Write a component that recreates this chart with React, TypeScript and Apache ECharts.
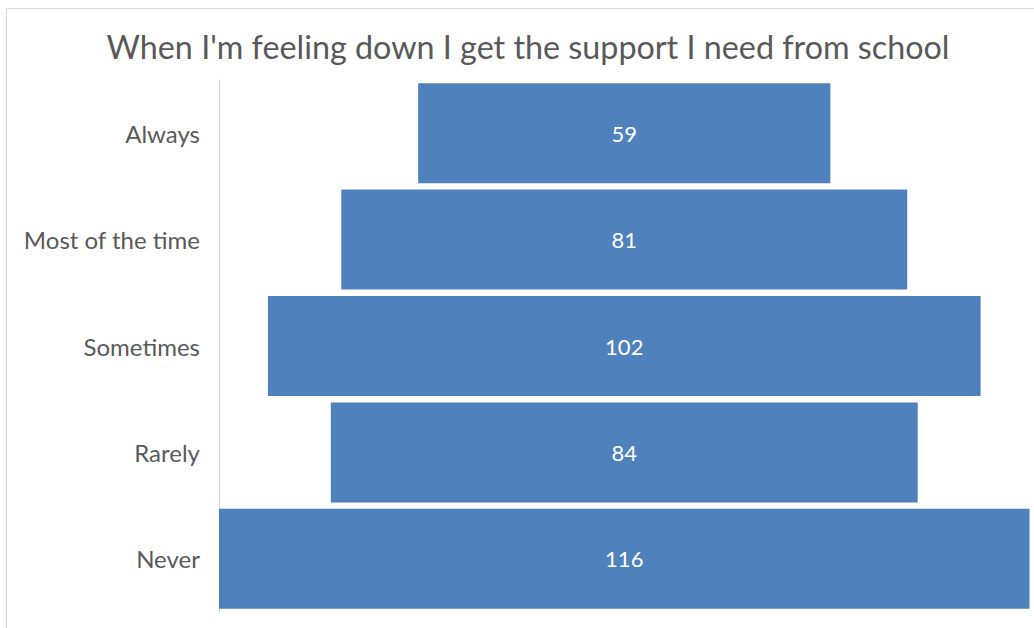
import React, { useEffect, useRef } from "react";
import * as echarts from "echarts";

const categories = ["Always", "Most of the time", "Sometimes", "Rarely", "Never"];
const counts = [59, 81, 102, 84, 116];
const maxCount = 116;

const chartTitle = "When I'm feeling down I get the support I need from school";

const fontFamily = "Lato";
const textGrey = "#595959";

export default function App() {
  const ref = useRef<HTMLDivElement>(null);

  useEffect(() => {
    if (!ref.current) return;
    const chart = echarts.init(ref.current, null, { renderer: "svg" });
    // Each bar is centred by stacking it on a transparent spacer of half the leftover width
    const spacer = counts.map((v) => (maxCount - v) / 2);
    chart.setOption({
      animation: false,
      backgroundColor: "#ffffff",
      title: {
        text: chartTitle,
        left: 523,
        top: 25,
        textAlign: "center",
        textStyle: {
          fontFamily,
          fontSize: 32.3,
          fontWeight: "normal",
          color: textGrey,
        },
      },
      graphic: [
        {
          type: "rect",
          shape: { x: 6.5, y: 8.5, width: 1100, height: 700 },
          style: { fill: "none", stroke: "#d9d9d9", lineWidth: 1 },
          silent: true,
        },
      ],
      grid: { left: 219, right: 4.5, top: 80, bottom: 16 },
      xAxis: {
        type: "value",
        min: 0,
        max: maxCount,
        show: false,
      },
      yAxis: {
        type: "category",
        data: categories,
        inverse: true,
        axisLine: { show: true, lineStyle: { color: "#d0d0d0", width: 1 } },
        axisTick: { show: false },
        axisLabel: {
          margin: 19,
          fontFamily,
          fontSize: 24,
          color: textGrey,
        },
      },
      series: [
        {
          type: "bar",
          stack: "funnel",
          data: spacer,
          itemStyle: { color: "transparent" },
          barWidth: 100,
          silent: true,
        },
        {
          type: "bar",
          stack: "funnel",
          data: counts,
          barWidth: 100,
          itemStyle: { color: "#4F81BD" },
          label: {
            show: true,
            position: "inside",
            fontFamily,
            fontSize: 22,
            color: "#ffffff",
          },
        },
      ],
    });
    return () => chart.dispose();
  }, []);

  return (
    <div
      ref={ref}
      style={{ position: "fixed", left: 0, top: 0, width: 1034, height: 628 }}
    />
  );
}
